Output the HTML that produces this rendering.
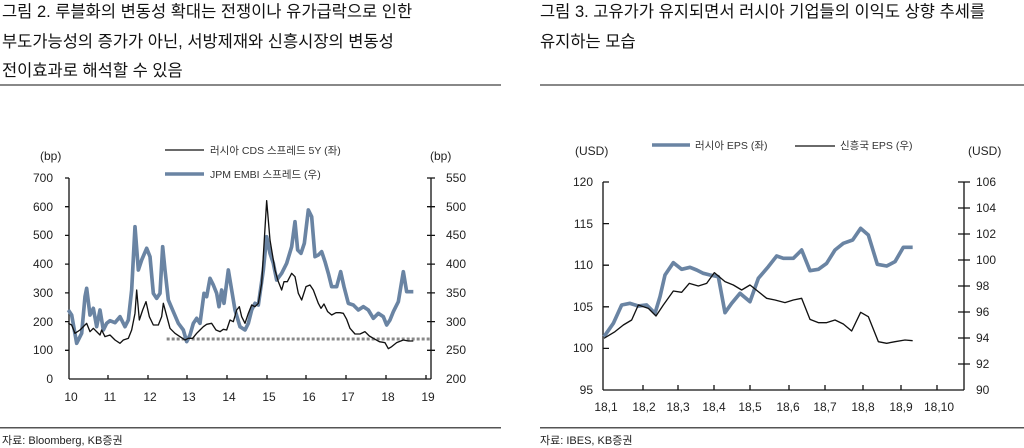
<!DOCTYPE html>
<html><head><meta charset="utf-8"><style>
html,body{margin:0;padding:0;background:#fff;width:1024px;height:448px;overflow:hidden}
svg{display:block}
text{font-family:"Liberation Sans","Noto Sans CJK KR",sans-serif;fill:#222}
.t{font-size:16.5px;fill:#111}
.s{font-size:11px}
.a{font-size:12px;fill:#333}
.l{font-size:10.5px;fill:#333}
</style></head><body>
<svg width="1024" height="448" viewBox="0 0 1024 448">
<text class="t" x="2" y="17">그림 2. 루블화의 변동성 확대는 전쟁이나 유가급락으로 인한</text>
<text class="t" x="2" y="47">부도가능성의 증가가 아닌, 서방제재와 신흥시장의 변동성</text>
<text class="t" x="2" y="76">전이효과로 해석할 수 있음</text>
<text class="t" x="540" y="17">그림 3. 고유가가 유지되면서 러시아 기업들의 이익도 상향 추세를</text>
<text class="t" x="540" y="47">유지하는 모습</text>
<rect x="0" y="84" width="501" height="2" fill="#888"/>
<rect x="540" y="84" width="484" height="2" fill="#888"/>
<rect x="0" y="427" width="501" height="1.5" fill="#555"/>
<rect x="540" y="427" width="484" height="1.5" fill="#555"/>
<text class="s" x="2" y="444">자료: Bloomberg, KB증권</text>
<text class="s" x="540" y="444">자료: IBES, KB증권</text>

<!-- Left chart -->
<g stroke="#111" stroke-width="1.3" fill="none">
<line x1="69" y1="178" x2="69" y2="379"/>
<line x1="69" y1="379" x2="431" y2="379"/>
<line x1="431" y1="178" x2="431" y2="379"/>
<path d="M65 178H69M65 206.7H69M65 235.4H69M65 264.1H69M65 292.9H69M65 321.6H69M65 350.3H69M427 178H435M427 206.7H435M427 235.4H435M427 264.1H435M427 292.9H435M427 321.6H435M427 350.3H435M108 379V375M148 379V375M187 379V375M227 379V375M267 379V375M306 379V375M346 379V375M386 379V375M426 379V375"/>
</g>
<g class="a" text-anchor="end">
<text x="53" y="182">700</text><text x="53" y="211">600</text><text x="53" y="239">500</text><text x="53" y="268">400</text><text x="53" y="297">300</text><text x="53" y="326">200</text><text x="53" y="354">100</text><text x="53" y="383">0</text>
</g>
<g class="a">
<text x="446" y="182">550</text><text x="446" y="211">500</text><text x="446" y="239">450</text><text x="446" y="268">400</text><text x="446" y="297">350</text><text x="446" y="326">300</text><text x="446" y="354">250</text><text x="446" y="383">200</text>
<text x="40" y="160">(bp)</text><text x="430" y="160">(bp)</text>
</g>
<g class="a" text-anchor="middle">
<text x="71" y="401">10</text><text x="110" y="401">11</text><text x="150" y="401">12</text><text x="189" y="401">13</text><text x="229" y="401">14</text><text x="269" y="401">15</text><text x="309" y="401">16</text><text x="348" y="401">17</text><text x="388" y="401">18</text><text x="428" y="401">19</text>
</g>
<line x1="165" y1="150" x2="204" y2="150" stroke="#111" stroke-width="1.3"/>
<text class="l" x="210" y="154">러시아 CDS 스프레드 5Y (좌)</text>
<line x1="165" y1="174" x2="204" y2="174" stroke="#6a84a3" stroke-width="3.5"/>
<text class="l" x="210" y="178">JPM EMBI 스프레드 (우)</text>
<g transform="translate(0,130) scale(0.33333)" fill="none" stroke-linejoin="round">
<line x1="500" y1="627" x2="1290" y2="627" stroke="#888" stroke-width="9" stroke-dasharray="9 6"/>
<polyline stroke="#6a84a3" stroke-width="11" points="205,540 215,555 230,640 245,610 255,500 260,475 270,555 280,535 290,590 300,540 310,600 320,580 330,572 345,578 360,560 375,590 385,570 395,480 405,290 415,420 425,390 440,355 450,380 460,490 470,505 480,490 488,350 495,420 505,510 520,545 535,580 550,600 560,635 570,615 580,580 590,565 600,580 612,490 620,500 630,445 640,465 650,490 657,530 665,480 672,520 685,420 695,480 705,540 720,590 735,600 745,580 755,540 765,520 775,525 790,420 800,320 810,370 820,400 830,450 845,430 860,400 875,350 885,275 893,360 903,370 913,340 925,240 935,260 945,380 955,375 965,365 975,395 985,430 995,470 1010,470 1022,425 1032,470 1045,520 1060,525 1075,540 1090,530 1105,540 1120,565 1135,550 1150,560 1160,585 1170,570 1180,545 1195,515 1210,425 1220,485 1240,485"/>
<polyline stroke="#111" stroke-width="4" points="205,580 215,585 225,610 240,600 255,585 260,580 270,605 280,595 300,615 305,600 315,620 330,615 345,630 360,640 370,630 385,625 395,600 405,550 410,480 418,570 428,540 438,515 448,560 460,585 475,585 485,560 490,520 498,550 510,595 525,610 540,620 555,630 565,625 578,625 590,610 600,600 610,590 620,583 635,580 648,600 660,605 670,598 680,600 690,570 700,575 710,540 718,530 725,560 735,580 745,550 755,525 765,530 775,520 785,460 800,212 810,330 825,420 835,455 845,480 852,455 862,455 875,430 885,440 895,490 905,510 918,470 930,465 940,480 955,520 963,535 972,522 983,545 995,555 1008,548 1020,548 1030,550 1040,568 1050,595 1065,612 1080,612 1095,605 1108,618 1120,625 1138,635 1155,638 1165,656 1175,650 1190,638 1210,630 1225,633 1240,633"/>
</g>

<!-- Right chart -->
<g stroke="#111" stroke-width="1.3" fill="none">
<line x1="603" y1="182" x2="603" y2="390"/>
<line x1="603" y1="390" x2="964" y2="390"/>
<line x1="964" y1="182" x2="964" y2="390"/>
<path d="M603 182H609M603 223.6H609M603 265.2H609M603 306.8H609M603 348.4H609M958 182H970M958 208H970M958 234H970M958 260H970M958 286H970M958 312H970M958 338H970M958 364H970M643 390V385M678 390V385M714 390V385M750 390V385M789 390V385M825 390V385M863 390V385M901 390V385M937 390V385"/>
</g>
<g class="a" text-anchor="end">
<text x="593" y="186">120</text><text x="593" y="228">115</text><text x="593" y="269">110</text><text x="593" y="311">105</text><text x="593" y="352">100</text><text x="593" y="394">95</text>
</g>
<g class="a">
<text x="976" y="186">106</text><text x="976" y="212">104</text><text x="976" y="238">102</text><text x="976" y="264">100</text><text x="976" y="290">98</text><text x="976" y="316">96</text><text x="976" y="342">94</text><text x="976" y="368">92</text><text x="976" y="394">90</text>
<text x="575" y="155">(USD)</text><text x="968" y="155">(USD)</text>
</g>
<g class="a" text-anchor="middle">
<text x="606" y="411">18,1</text><text x="644" y="411">18,2</text><text x="678" y="411">18,3</text><text x="714" y="411">18,4</text><text x="750" y="411">18,5</text><text x="788" y="411">18,6</text><text x="825" y="411">18,7</text><text x="863" y="411">18,8</text><text x="901" y="411">18,9</text><text x="939" y="411">18,10</text>
</g>
<line x1="652" y1="145" x2="690" y2="145" stroke="#6a84a3" stroke-width="3.5"/>
<text class="l" x="695" y="149">러시아 EPS (좌)</text>
<line x1="795" y1="146" x2="835" y2="146" stroke="#111" stroke-width="1.3"/>
<text class="l" x="840" y="149">신흥국 EPS (우)</text>
<g transform="translate(530,130) scale(0.33333)" fill="none" stroke-linejoin="round">
<polyline stroke="#6a84a3" stroke-width="11" points="222,620 250,580 275,525 300,520 325,528 350,525 375,550 390,500 405,435 430,398 455,418 480,412 500,420 520,430 540,435 565,440 585,548 605,520 630,490 660,515 685,445 715,410 740,378 760,385 790,385 815,360 840,422 865,418 890,400 915,360 940,340 968,330 992,295 1015,315 1042,403 1070,408 1095,395 1120,352 1148,352"/>
<polyline stroke="#111" stroke-width="4" points="222,625 255,605 280,585 305,570 325,525 355,535 378,558 400,525 430,483 455,487 478,460 505,468 530,460 553,428 585,455 610,465 635,480 660,465 685,485 710,505 735,510 765,518 790,510 815,505 840,568 865,578 890,578 915,570 940,582 965,603 992,547 1015,560 1045,635 1070,640 1095,635 1125,630 1148,632"/>
</g>
</svg>
</body></html>
